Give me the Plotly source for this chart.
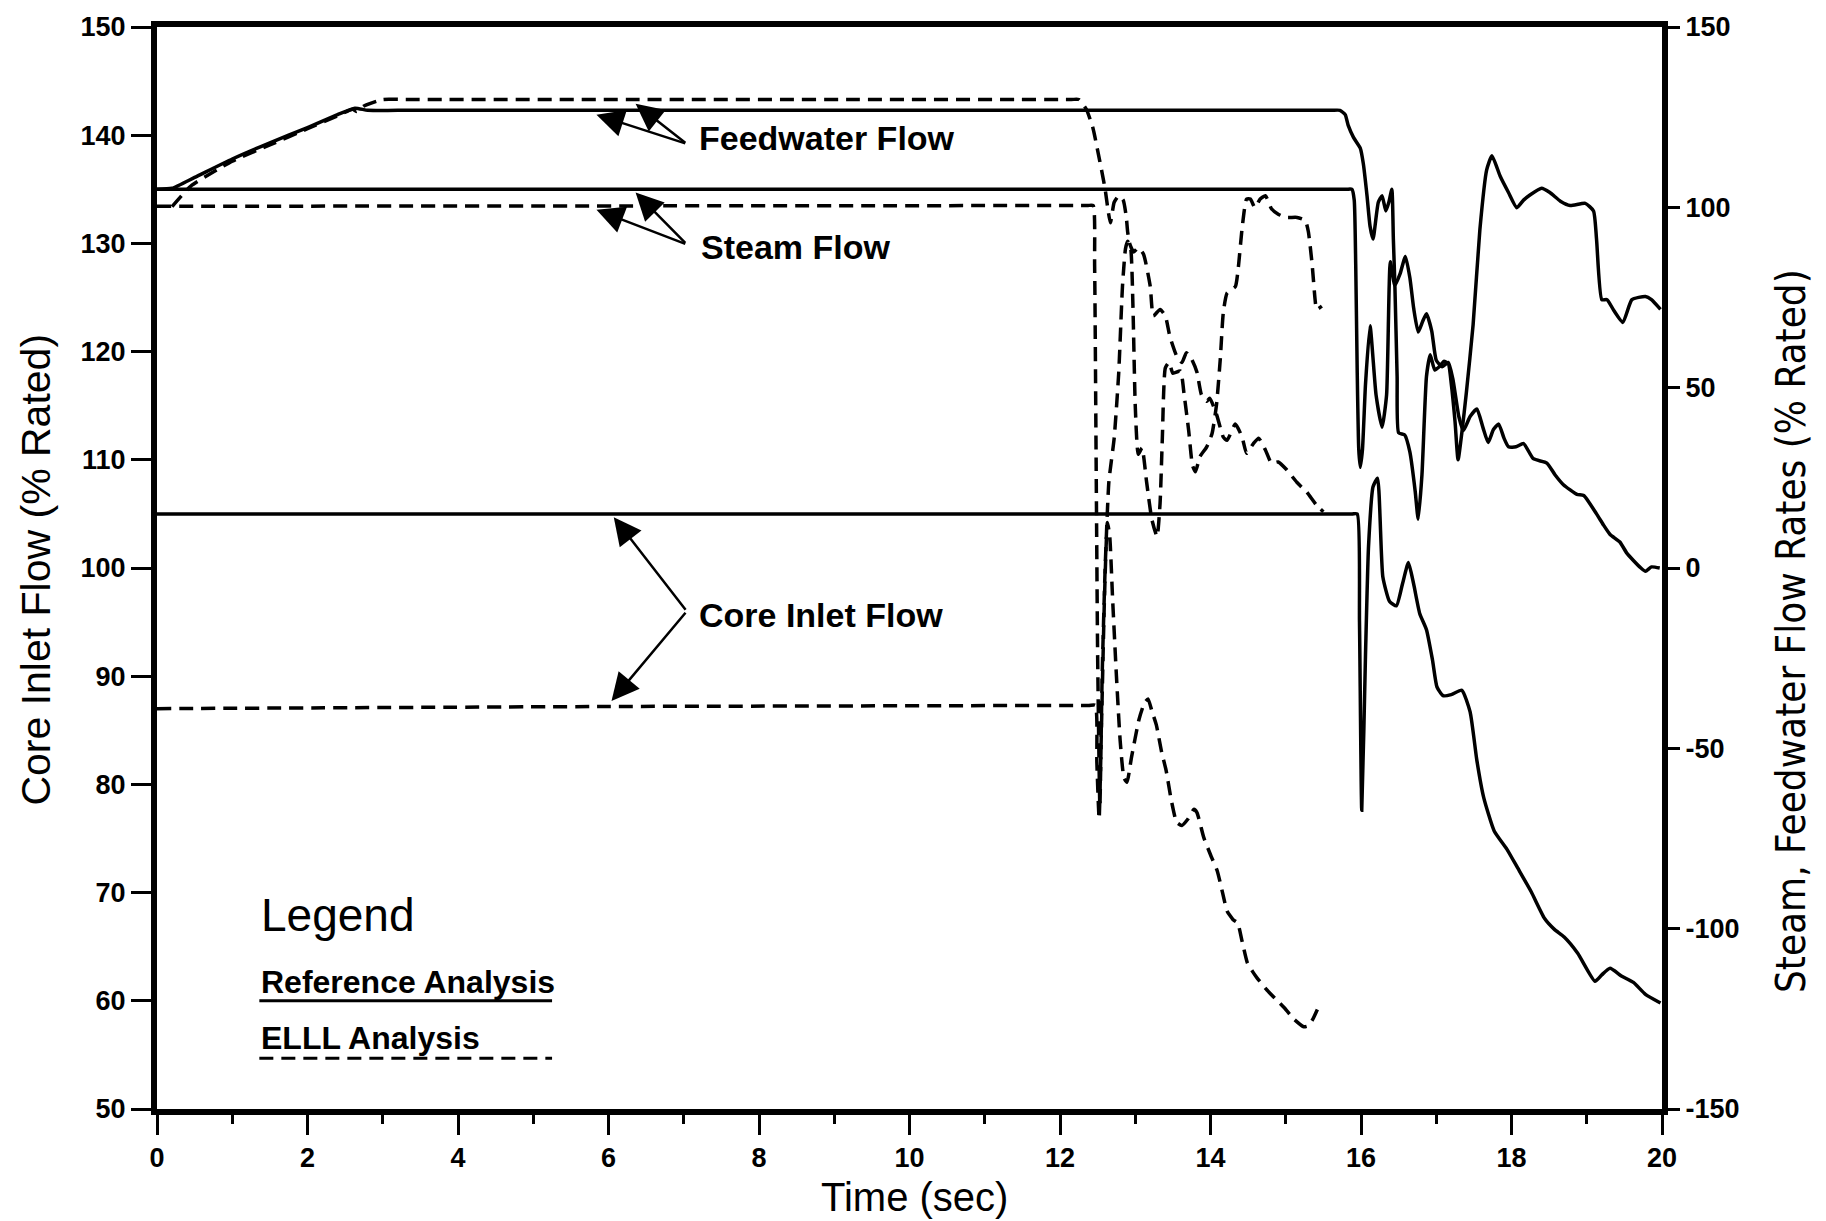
import plotly.graph_objects as go

# ---------------- data ----------------
# Reference analysis (solid)
ref_fw_t = [0, 0.2, 0.5, 1.0, 1.5, 2.0, 2.4, 2.63, 2.8, 3.2, 15.6, 15.72, 15.79, 15.83, 15.9,
            15.99, 16.03, 16.08, 16.12, 16.16, 16.23, 16.28, 16.33, 16.37, 16.41, 16.43, 16.45,
            16.48, 16.5, 16.58, 16.65, 16.72, 16.76, 16.81, 16.87, 16.92, 16.98, 17.04, 17.1,
            17.16, 17.2, 17.25, 17.29, 17.34, 17.4, 17.49, 17.58, 17.67, 17.74, 17.85, 17.96,
            18.07, 18.16, 18.25, 18.4, 18.51, 18.65, 18.78, 18.98, 19.09, 19.13, 19.2, 19.27,
            19.36, 19.48, 19.6, 19.78, 19.86, 19.98]
ref_fw = [105.0, 105.3, 108.3, 113.4, 117.9, 122.1, 125.7, 127.5, 126.9, 126.9, 126.9, 126.9,
          125.7, 122.7, 119.4, 116.4, 112.2, 103.2, 94.8, 91.2, 101.4, 103.2, 99.0, 101.4, 105.0,
          91.2, 78.6, 53.1, 37.5, 36.9, 32.1, 21.3, 13.5, 25.8, 53.1, 59.1, 54.9, 55.8, 57.3,
          56.7, 51.0, 40.5, 30.0, 37.5, 48.6, 67.5, 93.9, 110.4, 114.3, 108.6, 104.1, 99.9,
          102.0, 103.5, 105.3, 104.1, 101.7, 100.5, 101.1, 99.0, 91.2, 74.4, 74.4, 71.4, 68.1,
          74.4, 75.3, 74.4, 71.7]

ref_steam_t = [0, 15.8, 15.88, 15.91, 15.93, 15.95, 15.97, 15.99, 16.02, 16.06, 16.12, 16.2,
               16.28, 16.34, 16.39, 16.45, 16.52, 16.59, 16.65, 16.7, 16.76, 16.82, 16.87, 16.94,
               17.0, 17.08, 17.16, 17.22, 17.3, 17.36, 17.45, 17.54, 17.62, 17.69, 17.76, 17.83,
               17.9, 17.96, 18.06, 18.16, 18.29, 18.47, 18.58, 18.69, 18.87, 18.96, 19.13, 19.22,
               19.31, 19.44, 19.53, 19.62, 19.72, 19.78, 19.86, 19.97]
ref_steam = [105, 105, 105, 102, 84, 54, 33, 27.9, 33, 51, 67.2, 48, 39, 48, 84.9, 78.3, 81.6,
             86.4, 80.4, 72, 65.4, 68.4, 70.5, 65.7, 57.6, 55.8, 57.0, 52.5, 42, 38.1, 42, 44.1,
             39, 34.8, 38.4, 39.9, 36, 33.6, 33.6, 34.5, 30.3, 29.1, 25.8, 23.1, 20.4, 20.1, 15,
             12, 9.3, 7.2, 4.2, 2.1, 0, -0.9, 0.3, 0]

ref_core_t = [0, 15.88, 15.95, 15.98, 16.01, 16.06, 16.1, 16.16, 16.22, 16.29, 16.38, 16.47,
              16.55, 16.63, 16.7, 16.78, 16.87, 16.95, 17.01, 17.09, 17.2, 17.34, 17.45, 17.54,
              17.63, 17.77, 17.94, 18.08, 18.26, 18.44, 18.57, 18.70, 18.88, 19.11, 19.2, 19.31,
              19.46, 19.62, 19.78, 19.98]
ref_core = [105, 105, 105, 95, 77.6, 92, 102, 107.5, 108.3, 99.2, 96.9, 96.5, 98.5, 100.5, 98.5,
            95.8, 94.3, 91.5, 89.0, 88.2, 88.3, 88.7, 86.7, 82.2, 78.8, 75.7, 74.0, 72.3, 70.1,
            67.6, 66.6, 65.9, 64.4, 61.8, 62.4, 63.0, 62.3, 61.7, 60.6, 59.8]

# ELLL analysis (dashed)
elll_fw_t = [0.2, 0.45, 1.0, 1.5, 2.0, 2.4, 2.6, 2.65, 2.75, 3.0, 3.3, 12.15, 12.25, 12.35,
             12.44, 12.5, 12.56, 12.6, 12.64, 12.67, 12.72, 12.78, 12.84, 12.88, 12.9, 12.93,
             12.98, 13.04, 13.11, 13.2, 13.24, 13.33, 13.4, 13.46, 13.55, 13.62, 13.68, 13.75,
             13.82, 13.88, 13.95, 13.99, 14.08, 14.17, 14.22, 14.33, 14.42, 14.48, 14.57, 14.64,
             14.73, 14.81, 14.9, 15.01, 15.15, 15.28, 15.41, 15.5]
elll_fw = [100.2, 105.9, 112.8, 117.3, 121.8, 125.4, 127.2, 126.6, 128.1, 129.9, 129.9, 129.9,
           129.9, 127.2, 121.8, 115.8, 109.5, 105.0, 99.0, 95.7, 101.4, 103.2, 102.0, 97.5, 93.0,
           89.7, 87.6, 88.8, 87.0, 78.0, 69.9, 71.7, 69.9, 64.2, 58.8, 57.0, 59.7, 57.9, 54.3,
           48.0, 46.2, 47.1, 42.6, 36.3, 35.4, 39.9, 36.3, 31.8, 34.5, 36.0, 32.7, 29.1, 29.4,
           27.3, 23.7, 21.0, 17.4, 15.6]

elll_steam_t = [0, 12.36, 12.44, 12.46, 12.48, 12.5, 12.53, 12.56, 12.6, 12.65, 12.72, 12.78,
                12.83, 12.87, 12.9, 12.94, 12.97, 13.0, 13.04, 13.09, 13.15, 13.22, 13.29, 13.33,
                13.36, 13.4, 13.45, 13.5, 13.6, 13.65, 13.71, 13.76, 13.8, 13.86, 13.95, 14.02,
                14.08, 14.13, 14.17, 14.22, 14.33, 14.37, 14.42, 14.48, 14.53, 14.59, 14.66,
                14.73, 14.81, 14.9, 15.01, 15.15, 15.26, 15.3, 15.35, 15.39, 15.41, 15.48]
elll_steam = [100.3, 100.5, 100.5, 84, 30, -24, -66, -30, 0, 24, 36, 54, 78, 88.5, 90.6, 88.5,
              72, 45, 31.5, 33.3, 24, 13.5, 8.7, 18, 36, 55.5, 57, 54, 54.6, 48, 38.1, 28.5,
              26.7, 30.9, 33.6, 37.2, 45.3, 57.9, 70.8, 76.2, 78.0, 83.4, 94.2, 102.3, 102.3,
              99.9, 102.3, 103.2, 99.6, 98.1, 97.2, 97.2, 96.3, 93.3, 84.3, 74.4, 71.7, 72.6]

elll_core_t = [0, 6, 12.38, 12.47, 12.49, 12.52, 12.55, 12.59, 12.63, 12.66, 12.7, 12.75, 12.8,
               12.85, 12.89, 12.95, 13.05, 13.12, 13.17, 13.22, 13.28, 13.35, 13.41, 13.48,
               13.55, 13.62, 13.7, 13.78, 13.82, 13.91, 14.0, 14.09, 14.16, 14.22, 14.3, 14.36,
               14.42, 14.49, 14.56, 14.62, 14.75, 14.89, 15.0, 15.11, 15.24, 15.3, 15.36, 15.42]
elll_core = [87.0, 87.2, 87.3, 87.3, 82, 76.8, 85, 97, 104.2, 103, 97, 90, 84, 80.6, 80.2, 82.5,
             86, 87.5, 87.9, 86.8, 85.5, 83, 81.3, 78.5, 76.5, 76.2, 76.8, 77.7, 77.4, 75.1,
             73.5, 72.0, 70, 68.3, 67.5, 67.2, 65.5, 63.5, 62.7, 62.1, 61.0, 60.0, 59.2, 58.3,
             57.6, 57.7, 58.3, 59.2]

# axis ticks
x_ticks = list(range(0, 21, 2))
left_ticks = list(range(50, 151, 10))
right_ticks = [-150, -100, -50, 0, 50, 100, 150]
right_labels = ["-150", "-100", "-50", "0", "50", "100", "150"]

for a, b in [(ref_fw_t, ref_fw), (ref_steam_t, ref_steam), (ref_core_t, ref_core),
             (elll_fw_t, elll_fw), (elll_steam_t, elll_steam), (elll_core_t, elll_core)]:
    assert len(a) == len(b), (len(a), len(b))

# ---------------- figure ----------------
FONT = "Liberation Sans, Arial, Helvetica, sans-serif"
NARROW = "DejaVu Sans Condensed, Liberation Sans Narrow, Arial Narrow, sans-serif"
LW = 3.5
DASH = "14px,8px"
AXW = 6

fig = go.Figure()


def add_line(t, v, dashed, axis):
    fig.add_trace(go.Scatter(
        x=t, y=v, mode="lines", yaxis=axis,
        line=dict(color="black", width=LW, dash=DASH if dashed else "solid",
                  shape="spline", smoothing=0.5),
        hoverinfo="skip", showlegend=False))


add_line(ref_core_t, ref_core, False, "y")
add_line(elll_core_t, elll_core, True, "y")
add_line(ref_steam_t, ref_steam, False, "y2")
add_line(ref_fw_t, ref_fw, False, "y2")
add_line(elll_steam_t, elll_steam, True, "y2")
add_line(elll_fw_t, elll_fw, True, "y2")

tickfont = dict(family=FONT, size=27, color="black", weight="bold")

fig.update_layout(
    width=1826, height=1221,
    margin=dict(l=157, r=164, t=20, b=112),
    plot_bgcolor="white", paper_bgcolor="white",
    showlegend=False,
    xaxis=dict(range=[0, 20], tickvals=x_ticks, ticks="outside", ticklen=20, tickwidth=3,
               tickcolor="black", showline=True, linewidth=AXW, linecolor="black", mirror=True,
               showgrid=False, zeroline=False, tickfont=tickfont,
               minor=dict(tickmode="linear", tick0=0, dtick=1, ticks="outside", ticklen=9,
                          tickwidth=3, tickcolor="black", showgrid=False)),
    yaxis=dict(range=[50, 150], tickvals=left_ticks, ticks="outside", ticklen=20, tickwidth=3,
               tickcolor="black", showline=True, linewidth=AXW, linecolor="black",
               showgrid=False, zeroline=False, tickfont=tickfont),
    yaxis2=dict(range=[-150, 150], overlaying="y", side="right", tickvals=right_ticks,
                ticktext=right_labels, ticks="outside", ticklen=12, tickwidth=3,
                tickcolor="black", showline=True, linewidth=AXW, linecolor="black",
                showgrid=False, zeroline=False, tickfont=tickfont),
)

ann = []
# axis titles
ann.append(dict(text="Time (sec)", xref="paper", yref="paper", x=0.503, y=0, yshift=-88,
                xanchor="center", yanchor="middle", showarrow=False,
                font=dict(family=FONT, size=40, color="black")))
ann.append(dict(text="Core Inlet Flow (% Rated)", xref="paper", yref="paper", x=-0.081, y=0.4986,
                xanchor="center", yanchor="middle", textangle=-90, showarrow=False,
                font=dict(family=FONT, size=41, color="black")))
ann.append(dict(text="Steam, Feedwater Flow Rates (% Rated)", xref="paper", yref="paper",
                x=1.0857, y=0.4417, xanchor="center", yanchor="middle", textangle=-90,
                showarrow=False, font=dict(family=NARROW, size=40, color="black")))

# curve labels with pointer arrows (left-axis coordinates)
label_font = dict(family=FONT, size=34, color="black", weight="bold")
labels = [
    ("Feedwater Flow", 7.17, 139.7, 7.04, 139.2, [(5.84, 141.9), (6.36, 142.9)]),
    ("Steam Flow", 7.2, 129.7, 7.04, 129.9, [(6.36, 134.7), (5.84, 133.1)]),
    ("Core Inlet Flow", 7.17, 95.7, 7.04, 96.0, [(6.07, 104.7), (6.04, 87.7)]),
]
for text, tx, ty, ax, ay, tips in labels:
    ann.append(dict(text=text, x=tx, y=ty, xref="x", yref="y", xanchor="left",
                    yanchor="middle", showarrow=False, font=label_font))
    for px, py in tips:
        ann.append(dict(text="", x=px, y=py, xref="x", yref="y", ax=ax, ay=ay,
                        axref="x", ayref="y", showarrow=True, arrowhead=2, arrowsize=2.2,
                        arrowwidth=2.5, arrowcolor="black"))

# legend block
ann.append(dict(text="Legend", x=1.36, y=67.9, xref="x", yref="y", xanchor="left",
                yanchor="middle", showarrow=False, font=dict(family=FONT, size=46, color="black")))
ann.append(dict(text="Reference Analysis", x=1.36, y=61.7, xref="x", yref="y", xanchor="left",
                yanchor="middle", showarrow=False,
                font=dict(family=FONT, size=32, color="black", weight="bold")))
ann.append(dict(text="ELLL Analysis", x=1.36, y=56.6, xref="x", yref="y", xanchor="left",
                yanchor="middle", showarrow=False,
                font=dict(family=FONT, size=32, color="black", weight="bold")))
fig.update_layout(annotations=ann)

fig.add_shape(type="line", xref="x", yref="y", x0=1.36, x1=5.25, y0=60.0, y1=60.0,
              line=dict(color="black", width=3))
fig.add_shape(type="line", xref="x", yref="y", x0=1.36, x1=5.25, y0=54.7, y1=54.7,
              line=dict(color="black", width=3, dash=DASH))

fig.write_html("out.html")
